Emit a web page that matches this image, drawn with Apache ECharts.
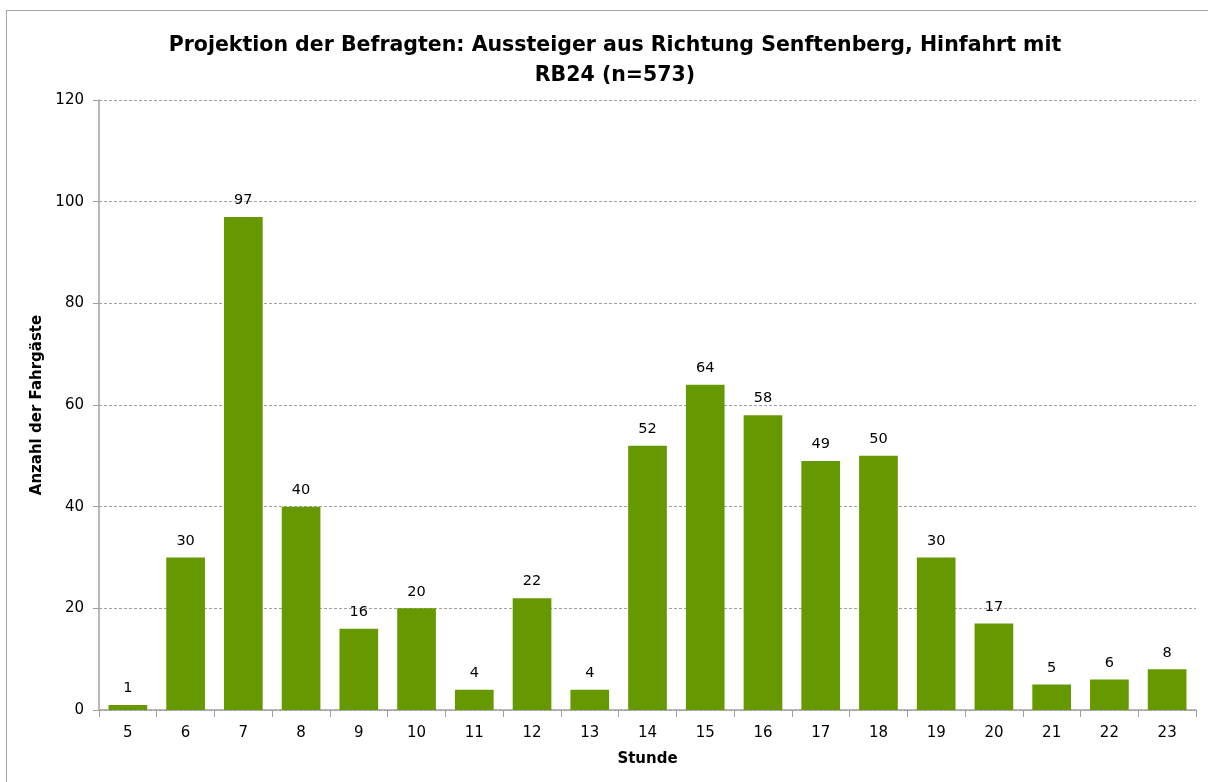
<!DOCTYPE html>
<html>
<head>
<meta charset="utf-8">
<script src="https://cdn.jsdelivr.net/npm/echarts@6/dist/echarts.min.js"></script>
<style>
  html, body { margin: 0; padding: 0; background: #fff; }
  #frame { position: absolute; left: 6px; top: 10px; width: 1210px; height: 790px; border: 1px solid #a6a6a6; box-sizing: border-box; }
  #chart { width: 1208px; height: 782px; position: absolute; left: 0; top: 0; }
</style>
</head>
<body>
<div id="frame"></div>
<div id="chart"></div>
<script>
// Stunde der Fahrt
const hours = ['5', '6', '7', '8', '9', '10', '11', '12', '13', '14', '15', '16', '17', '18', '19', '20', '21', '22', '23'];
// Anzahl der Fahrgäste je Stunde
const passengers = [1, 30, 97, 40, 16, 20, 4, 22, 4, 52, 64, 58, 49, 50, 30, 17, 5, 6, 8];

const font = 'Tahoma, "DejaVu Sans", Verdana, sans-serif';

const chart = echarts.init(document.getElementById('chart'), null, { renderer: 'canvas' });

chart.setOption({
    animation: false,
    title: {
        text: 'Projektion der Befragten: Aussteiger aus Richtung Senftenberg, Hinfahrt mit\nRB24 (n=573)',
        left: 610,
        top: 26,
        textAlign: 'center',
        textStyle: {
            fontFamily: font,
            fontSize: 20.5,
            fontWeight: 'bold',
            color: '#000',
            lineHeight: 30
        }
    },
    grid: {
        left: 99,
        right: 12,
        top: 100,
        bottom: 72,
        containLabel: false
    },
    xAxis: {
        type: 'category',
        data: hours,
        name: 'Stunde',
        nameLocation: 'middle',
        nameGap: 42,
        nameTextStyle: { fontFamily: font, fontSize: 15, fontWeight: 'bold', color: '#000' },
        axisLine: { lineStyle: { color: '#a0a0a0', width: 1.5 } },
        axisTick: { show: true, alignWithLabel: false, length: 7, lineStyle: { color: '#a0a0a0' } },
        axisLabel: { fontFamily: font, fontSize: 15, color: '#000', margin: 16 }
    },
    yAxis: {
        type: 'value',
        min: 0,
        max: 120,
        interval: 20,
        name: 'Anzahl der Fahrgäste',
        nameLocation: 'middle',
        nameGap: 53,
        nameTextStyle: { fontFamily: font, fontSize: 15, fontWeight: 'bold', color: '#000' },
        axisLine: { show: true, lineStyle: { color: '#a0a0a0', width: 1.5 } },
        axisTick: { show: true, length: 6, lineStyle: { color: '#a0a0a0' } },
        axisLabel: { fontFamily: font, fontSize: 15, color: '#000', margin: 15 },
        splitLine: { lineStyle: { color: '#a0a0a0', type: [3, 2] } }
    },
    series: [{
        type: 'bar',
        data: passengers,
        barCategoryGap: '33%',
        itemStyle: { color: '#669900' },
        label: {
            show: true,
            position: 'top',
            distance: 9,
            fontFamily: font,
            fontSize: 14.5,
            color: '#000'
        }
    }]
});
</script>
</body>
</html>
